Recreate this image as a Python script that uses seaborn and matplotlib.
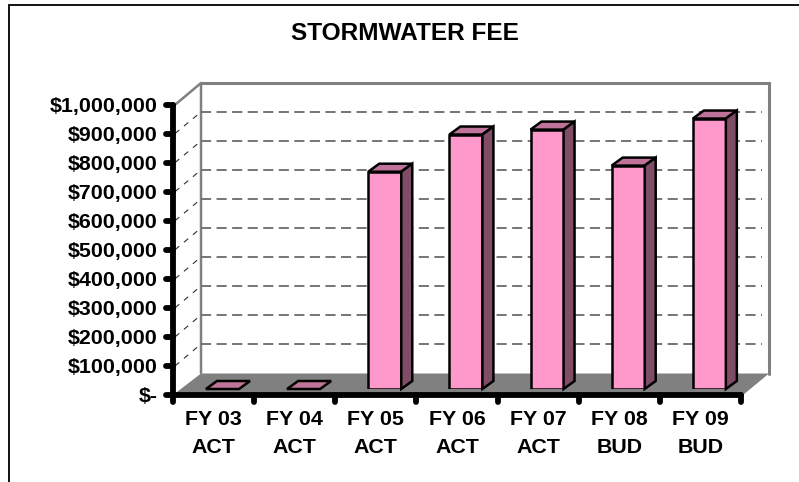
import numpy as np
import pandas as pd
import matplotlib
matplotlib.use("Agg")
import matplotlib.pyplot as plt
from matplotlib.markers import MarkerStyle, TICKLEFT, TICKDOWN
from matplotlib.patches import Polygon
import seaborn as sns

W, H = 799, 482

categories = ["FY 03\nACT", "FY 04\nACT", "FY 05\nACT", "FY 06\nACT", "FY 07\nACT", "FY 08\nBUD", "FY 09\nBUD"]
fee = [0, 0, 748000, 876000, 893000, 769000, 931000]
y_ticks = [0, 100000, 200000, 300000, 400000, 500000, 600000, 700000, 800000, 900000, 1000000]
y_labels = ["$-", "$100,000", "$200,000", "$300,000", "$400,000", "$500,000",
            "$600,000", "$700,000", "$800,000", "$900,000", "$1,000,000"]

PINK = "#FF99CC"
PINK_TOP = "#BF7399"
PINK_SIDE = "#804D66"
GREY = "#808080"


def px_axes(fig, left, right, bottom, top, **kw):
    # axes placed by pixel box, y measured from the top of the image
    return fig.add_axes([left / W, 1 - bottom / H, (right - left) / W, (bottom - top) / H], **kw)


sns.set_theme(style="white")
plt.rcParams["font.family"] = ["Liberation Sans", "DejaVu Sans"]
plt.rcParams["font.weight"] = "bold"

fig = plt.figure(figsize=(W / 100, H / 100), dpi=100, facecolor="white")

# frame, walls and floor in image pixels
bg = px_axes(fig, 0, W, H, 0)
bg.set_xlim(0, W)
bg.set_ylim(H, 0)
bg.axis("off")
bg.plot([9, 9, W], [H, 5, 5], color="black", lw=1.3, solid_joinstyle="miter")
bg.add_patch(Polygon([(173, 395), (743, 395), (769, 373.5), (201, 373.5)], closed=True, color=GREY, lw=0))
bg.plot([176, 201, 201], [104, 83, 373], color=GREY, lw=1.8)
bg.plot([201, 769, 769], [83, 83, 374], color=GREY, lw=2.2, solid_joinstyle="miter")

# dashed lines on the back wall, same scale as the front axis
wall = px_axes(fig, 201, 769, 373, 83)
wall.patch.set_alpha(0)
wall.axis("off")
wall.set_xlim(0, 1)
wall.set_ylim(0, 1000000)
wall.hlines(y_ticks[1:-1], 0, 0.988, color="#757575", lw=1.4, linestyles=(0, (5.2, 2.8)))

# short dashes running across the left wall
for i in range(1, 10):
    y_f = 395 - i * 29.05
    y_b = 373 - i * 29
    bg.plot([175, 201], [y_f, y_b], color="#303030", lw=0.8, linestyle=(0, (5, 5.5)))

# front axis with ticks and labels
ax = px_axes(fig, 173, 741, 395, 104.5)
ax.patch.set_alpha(0)
ax.set_xlim(-0.5, 6.5)
ax.set_ylim(0, 1000000)
ax.set_yticks(y_ticks, y_labels)
ax.set_xticks(np.arange(len(categories) + 1) - 0.5, [""] * (len(categories) + 1))
ax.set_xticks(np.arange(len(categories)), categories, minor=True)
ax.tick_params(axis="y", left=True, length=5, width=4.2, color="black", pad=6, labelsize=15.4, labelcolor="black")
ax.tick_params(axis="x", which="major", bottom=True, length=5, width=4.2, color="black")
ax.tick_params(axis="x", which="minor", bottom=False, length=0, pad=10.5, labelsize=15.4, labelcolor="black")
for lab in ax.get_xticklabels(minor=True):
    lab.set_linespacing(1.6)
for t in ax.yaxis.get_major_ticks():
    t.tick1line.set_marker(MarkerStyle(TICKLEFT, capstyle="round"))
for t in ax.xaxis.get_major_ticks():
    t.tick1line.set_marker(MarkerStyle(TICKDOWN, capstyle="round"))
sns.despine(ax=ax)
for side in ["left", "bottom"]:
    ax.spines[side].set_color("black")
    ax.spines[side].set_linewidth(4.2)
    ax.spines[side].set_capstyle("round")

# bars stand a little behind the front axis
bar_ax = px_axes(fig, 181.9, 749.9, 389, 98.5)
bar_ax.patch.set_alpha(0)
df = pd.DataFrame({"year": categories, "fee": fee})
bar_width = 0.407
sns.barplot(df, x="year", y="fee", ax=bar_ax, color=PINK, saturation=1, width=bar_width,
            edgecolor="black", linewidth=1.8, zorder=3)
bar_ax.set_xlim(-0.5, 6.5)
bar_ax.set_ylim(0, 1000000)
bar_ax.axis("off")

dx = 11 / 81.14
dy = 8 / 290.5 * 1000000
for i, v in enumerate(fee):
    l = i - bar_width / 2
    r = i + bar_width / 2
    bar_ax.add_patch(Polygon([(l, v), (r, v), (r + dx, v + dy), (l + dx, v + dy)], closed=True,
                             facecolor=PINK_TOP, edgecolor="black", lw=1.8, joinstyle="miter",
                             clip_on=False, zorder=4))
    if v > 0:
        bar_ax.add_patch(Polygon([(r, 0), (r + dx, dy), (r + dx, v + dy), (r, v)], closed=True,
                                 facecolor=PINK_SIDE, edgecolor="black", lw=1.8, joinstyle="miter",
                                 clip_on=False, zorder=4))

fig.text(404.5 / W, 1 - 34 / H, "STORMWATER FEE", ha="center", va="center", fontsize=17.6, fontweight="bold", color="black")

fig.savefig("out.png", dpi=100)
